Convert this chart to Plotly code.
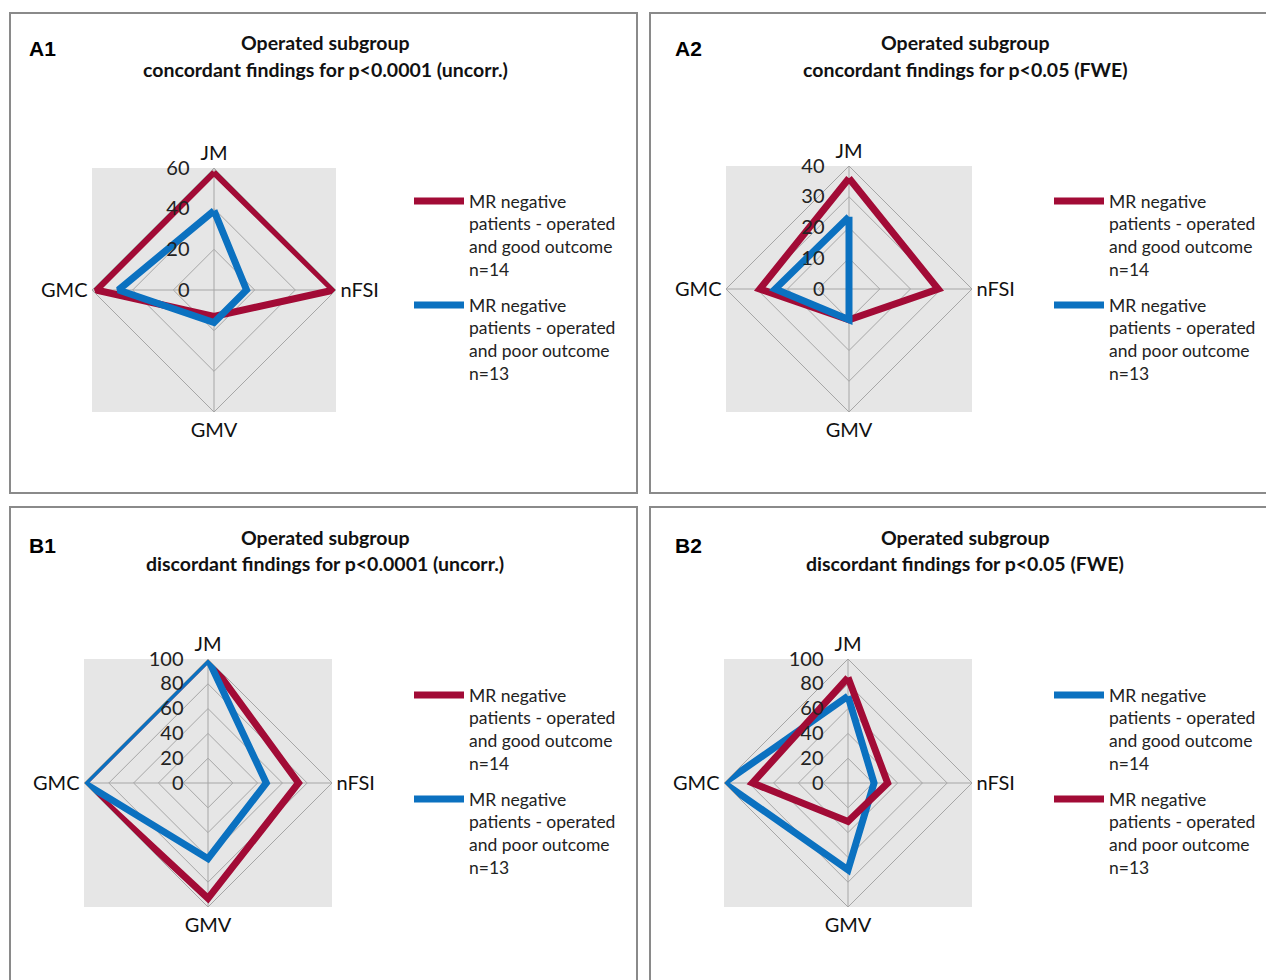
import plotly.graph_objects as go

categories = ["JM", "nFSI", "GMV", "GMC"]

good_label = "MR negative<br>patients - operated<br>and good outcome<br>n=14"
poor_label = "MR negative<br>patients - operated<br>and poor outcome<br>n=13"

# A1: concordant, p<0.0001 (uncorr.)
a1_good = [58, 59, 13, 58]
a1_poor = [39, 16, 16, 47]
# A2: concordant, p<0.05 (FWE)
a2_good = [36, 29, 10, 29]
a2_poor = [23.5, 0, 10, 24]
# B1: discordant, p<0.0001 (uncorr.)
b1_good = [100, 73, 93, 100]
b1_poor = [100, 47, 61, 100]
# B2: discordant, p<0.05 (FWE)
b2_good = [70, 21, 70, 100]
b2_poor = [85, 32, 31, 77]

a1_ticks = [0, 20, 40, 60]
a2_ticks = [0, 10, 20, 30, 40]
b_ticks = [0, 20, 40, 60, 80, 100]

panel_labels = ["A1", "A2", "B1", "B2"]
title_line1 = ["Operated subgroup"] * 4
title_line2 = [
    "concordant findings for p<0.0001 (uncorr.)",
    "concordant findings for p<0.05 (FWE)",
    "discordant findings for p<0.0001 (uncorr.)",
    "discordant findings for p<0.05 (FWE)",
]

RED = "#A20B36"
BLUE = "#0B71C0"
W, H = 1266, 980
FONT = "Lato"

# panel geometry (pixels): center x, center y, radius
geo = [
    (214, 290, 122),
    (849, 289, 123),
    (208, 783, 124),
    (848, 783, 124),
]
panel_boxes = [(10, 13, 637, 493), (650, 13, 1275, 493), (10, 507, 637, 990), (650, 507, 1275, 990)]
title_cx = [325, 965, 325, 965]
title_y = [(43, 70), (43, 70), (537, 563), (537, 563)]
label_pos = [(27, 48), (673, 48), (27, 545), (673, 545)]
legend_pos = [(409, 183), (1049, 183), (409, 677), (1049, 677)]

data_sets = [
    (a1_good, a1_poor, a1_ticks, [("good", RED), ("poor", BLUE)]),
    (a2_good, a2_poor, a2_ticks, [("good", RED), ("poor", BLUE)]),
    (b1_good, b1_poor, b_ticks, [("good", RED), ("poor", BLUE)]),
    (b2_good, b2_poor, b_ticks, [("good", BLUE), ("poor", RED)]),
]

fig = go.Figure()
shapes = []
annotations = []
layout = {}

for i, (good, poor, ticks, order) in enumerate(data_sets):
    pid = "polar" if i == 0 else f"polar{i+1}"
    lid = "legend" if i == 0 else f"legend{i+1}"
    cx, cy, r = geo[i]
    vals = {"good": good, "poor": poor}
    labels = {"good": good_label, "poor": poor_label}
    for key, col in order:
        v = vals[key]
        fig.add_trace(go.Scatterpolar(
            r=v + [v[0]], theta=categories + [categories[0]],
            mode="lines", line=dict(color=col, width=7),
            name=labels[key], subplot=pid, legend=lid, legendgroup=f"{pid}_{key}",
        ))
    # gray square
    shapes.append(dict(type="rect", xref="paper", yref="paper", layer="below",
                       x0=(cx - r) / W, x1=(cx + r) / W,
                       y0=1 - (cy + r) / H, y1=1 - (cy - r) / H,
                       fillcolor="#E6E6E6", line=dict(width=0)))
    # panel border
    bx0, by0, bx1, by1 = panel_boxes[i]
    shapes.append(dict(type="rect", xref="paper", yref="paper", layer="below",
                       x0=bx0 / W, x1=bx1 / W, y0=1 - by1 / H, y1=1 - by0 / H,
                       fillcolor="rgba(0,0,0,0)", line=dict(color="#8A8A8A", width=2)))
    layout[pid] = dict(
        domain=dict(x=[(cx - r) / W, (cx + r) / W], y=[1 - (cy + r) / H, 1 - (cy - r) / H]),
        bgcolor="rgba(0,0,0,0)",
        gridshape="linear",
        angularaxis=dict(rotation=90, direction="clockwise", categoryarray=categories,
                         categoryorder="array", showline=True, linecolor="#A6A6A6", linewidth=1,
                         gridcolor="#A6A6A6", gridwidth=1, ticks="",
                         tickfont=dict(family=FONT, size=20, color="#111")),
        radialaxis=dict(range=[0, ticks[-1]], tickvals=ticks, angle=90, showline=False,
                        gridcolor="#A6A6A6", gridwidth=1, ticks="outside", ticklen=17,
                        tickcolor="rgba(0,0,0,0)", side="counterclockwise", tickangle=90,
                        tickfont=dict(family=FONT, size=20, color="#222")),
    )
    lx, ly = legend_pos[i]
    layout[lid] = dict(x=lx / W, y=1 - ly / H, xanchor="left", yanchor="top",
                       bgcolor="rgba(0,0,0,0)", font=dict(family=FONT, size=17.5, color="#222"),
                       valign="top", tracegroupgap=10, itemwidth=50)
    annotations.append(dict(text="<b>" + panel_labels[i] + "</b>", xref="paper", yref="paper",
                            x=label_pos[i][0] / W, y=1 - label_pos[i][1] / H,
                            xanchor="left", yanchor="middle", showarrow=False,
                            font=dict(family="Liberation Sans", size=21, color="#000")))
    for t, yy in zip([title_line1[i], title_line2[i]], title_y[i]):
        annotations.append(dict(text="<b>" + t + "</b>", xref="paper", yref="paper",
                                x=title_cx[i] / W, y=1 - yy / H, xanchor="center", yanchor="middle",
                                showarrow=False, font=dict(family=FONT, size=19.5, color="#111")))

fig.update_layout(width=W, height=H, margin=dict(l=0, r=0, t=0, b=0),
                  paper_bgcolor="white", plot_bgcolor="white", showlegend=True,
                  shapes=shapes, annotations=annotations, **layout)

fig.write_html("out.html")
